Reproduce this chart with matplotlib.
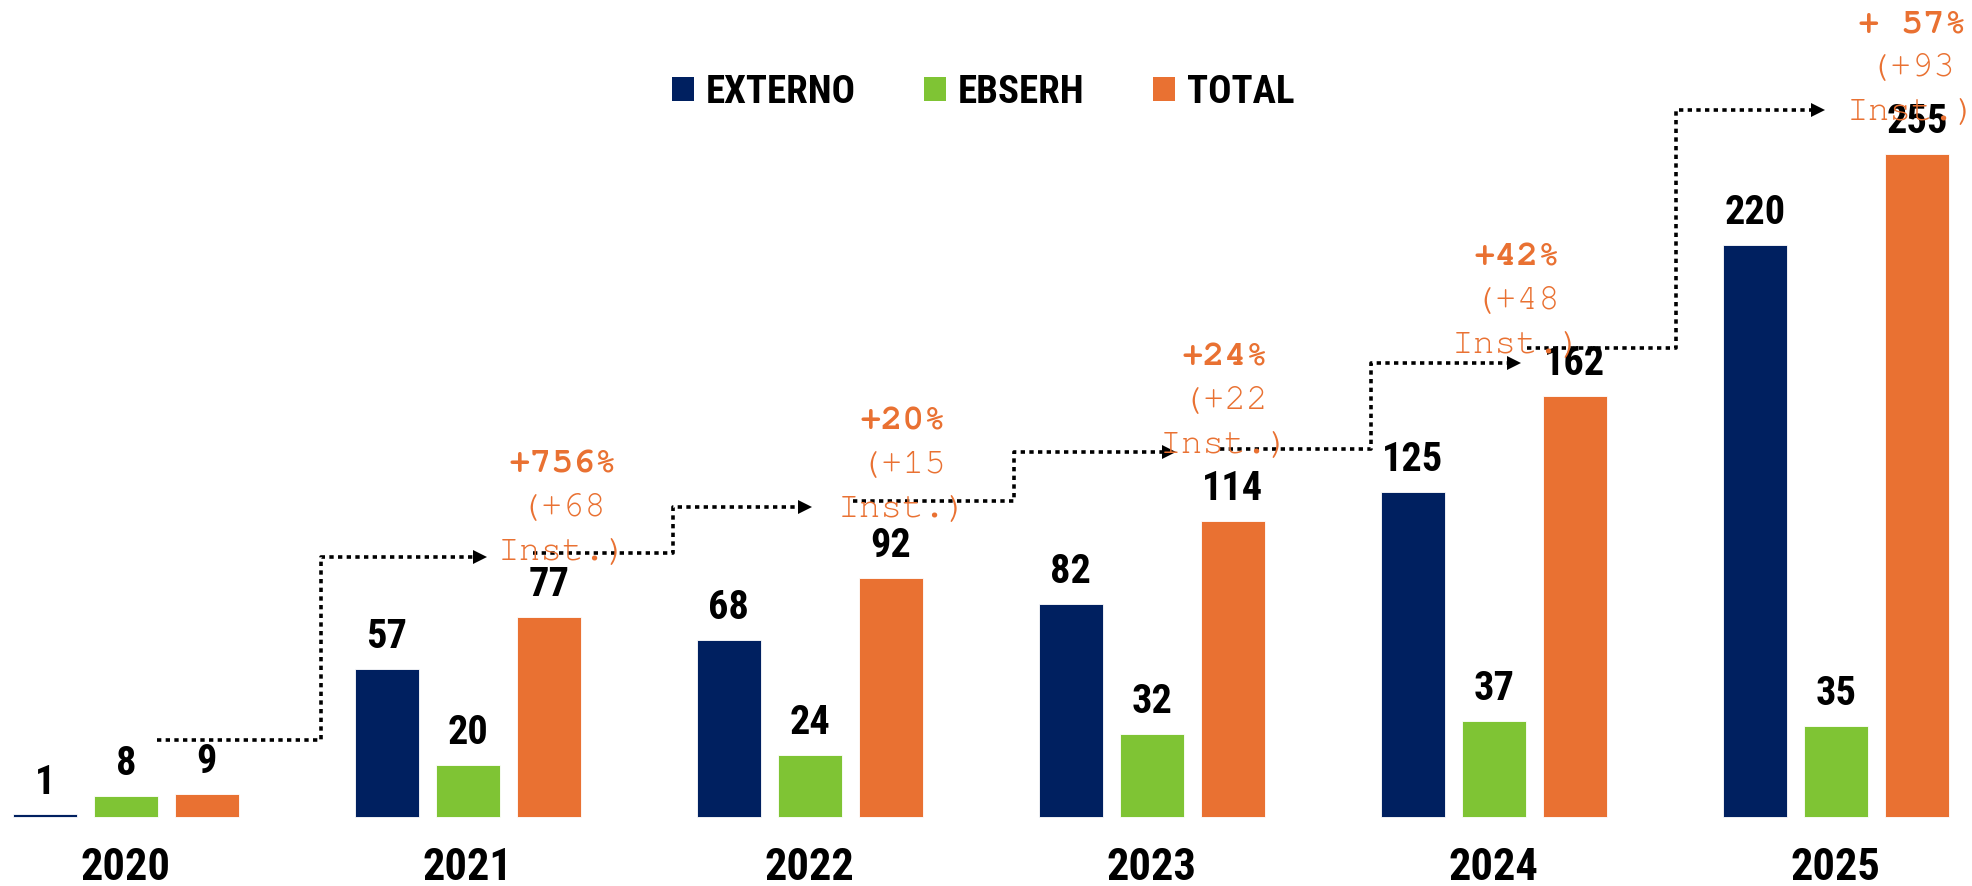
import matplotlib.pyplot as plt
from matplotlib import font_manager
from matplotlib.patches import Patch
import numpy as np

# data
years = ['2020', '2021', '2022', '2023', '2024', '2025']
externo = [1, 57, 68, 82, 125, 220]
ebserh = [8, 20, 24, 32, 37, 35]
total = [9, 77, 92, 114, 162, 255]

growth_pct = ['+756%', '+20%', '+24%', '+42%', '+ 57%']
growth_inst = ['(+68', '(+15', '(+22', '(+48', '(+93']

# colours
c_ext = '#002060'
c_ebs = '#7FC434'
c_tot = '#E97132'

# annotation layout (data units): centre x and y of the first text line
note_x = [1.278, 2.272, 3.213, 4.067, 5.222]
note_y = [135.4, 151.9, 176.5, 215.0, 304.6]

# dotted step connectors: start x, step x, arrow tip x, lower y, upper y
arr_x0 = [0.09, 1.19, 2.126, 3.199, 4.096]
arr_xs = [0.570, 1.599, 2.596, 3.640, 4.532]
arr_x1 = [1.056, 2.006, 3.070, 4.079, 4.968]
arr_y0 = [29.6, 101.5, 121.5, 141.5, 180.4]
arr_y1 = [100.0, 119.2, 140.4, 174.6, 271.9]


def pick(cands, bold=False):
    avail = {}
    for f in font_manager.fontManager.ttflist:
        w = f.weight if isinstance(f.weight, int) else (700 if 'bold' in str(f.weight) else 400)
        avail.setdefault(f.name, []).append((w, '[' in f.fname))
    for c in cands:
        if c in avail and (not bold or any(w >= 700 and not var for w, var in avail[c])):
            return c
    return 'DejaVu Sans'


narrow = pick(['Liberation Sans Narrow', 'Arial Narrow', 'Archivo Narrow',
               'Roboto Condensed', 'PT Sans Narrow', 'Open Sans Condensed'], bold=True)
mono = pick(['Courier New', 'FreeMono', 'Nimbus Mono PS', 'Liberation Mono'])
label_font = [narrow, 'DejaVu Sans']
mono_font = [mono, 'DejaVu Sans Mono']

fig = plt.figure(figsize=(19.72, 8.86), dpi=100)
ax = fig.add_axes([0, 0, 1, 1])
ax.set_xlim(-0.368, 5.398)
ax.set_ylim(-26.5, 314.2)
ax.axis('off')

x = np.arange(len(years))
step = 0.237
w = 0.187
for k, (vals, col) in enumerate([(externo, c_ext), (ebserh, c_ebs), (total, c_tot)]):
    xs = x + (k - 1) * step
    ax.bar(xs, vals, width=w, color=col, edgecolor='white', linewidth=0.6)
    for xi, v in zip(xs, vals):
        ax.annotate(str(v), (xi, v), xytext=(0, 15), textcoords='offset points',
                    ha='center', va='baseline', fontsize=29, fontweight='bold',
                    family=label_font, color='black')

for xi, yr in zip(x, years):
    ax.text(xi, -24.3, yr, ha='center', va='baseline', fontsize=32,
            fontweight='bold', family=label_font)

# step arrows
head = 14 / 342
for x0, xs_, x1, y0, y1 in zip(arr_x0, arr_xs, arr_x1, arr_y0, arr_y1):
    ax.plot([x0, xs_, xs_, x1 - head], [y0, y0, y1, y1], color='black',
            lw=2.6, linestyle=(0, (1.2, 1.2)), dash_capstyle='butt')
    ax.plot([x1 - head / 2], [y1], marker='>', markersize=10.5, color='black',
            markeredgewidth=0)

# growth notes
for nx, ny, pct, inst in zip(note_x, note_y, growth_pct, growth_inst):
    ax.text(nx, ny, pct, ha='center', va='center', fontsize=26,
            fontweight='bold', family=mono_font, color=c_tot)
    ax.annotate(inst, (nx, ny), xytext=(0, -31.5), textcoords='offset points',
                ha='center', va='center', fontsize=26, family=mono_font,
                color=c_tot)
    ax.annotate('Inst.)', (nx, ny), xytext=(0, -63), textcoords='offset points',
                ha='center', va='center', fontsize=26, family=mono_font,
                color=c_tot)

handles = [Patch(facecolor=c_ext), Patch(facecolor=c_ebs), Patch(facecolor=c_tot)]
leg = fig.legend(handles, ['EXTERNO', 'EBSERH', 'TOTAL'], loc='center',
                 bbox_to_anchor=(0.4985, 0.896), ncol=3, frameon=False,
                 handlelength=0.58, handleheight=0.58, handletextpad=0.3,
                 columnspacing=1.75,
                 prop={'family': label_font, 'weight': 'bold', 'size': 28})

fig.savefig('out.png', dpi=100)
